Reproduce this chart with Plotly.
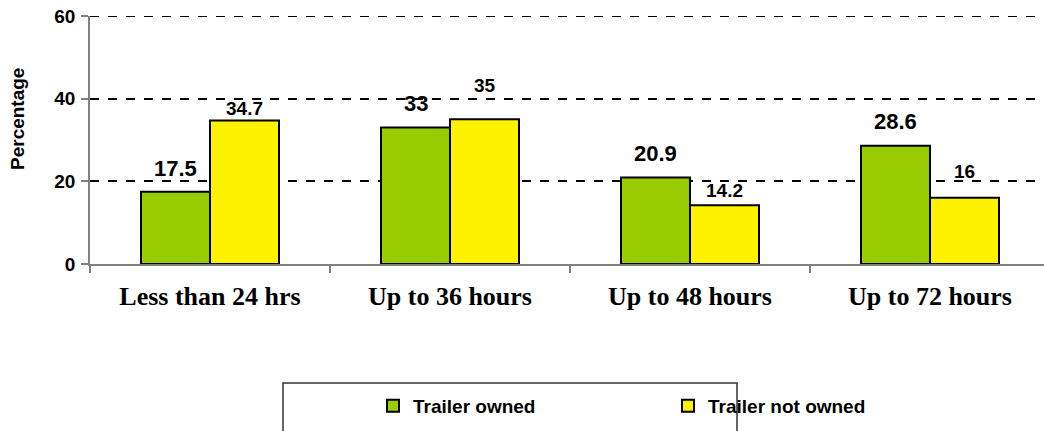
import plotly.graph_objects as go

categories = ["Less than 24 hrs", "Up to 36 hours", "Up to 48 hours", "Up to 72 hours"]
owned = [17.5, 33, 20.9, 28.6]
not_owned = [34.7, 35, 14.2, 16]
series_names = ["Trailer owned", "Trailer not owned"]
y_ticks = [0, 20, 40, 60]
y_title = "Percentage"

GREEN = "#99CC00"
YELLOW = "#FFF200"

# page body margin is removed below, so the figure sits at the top-left corner
OFF = 0
W, H = 1044, 431
ML = 90 - OFF
MT = 16 - OFF
MB = H - (264 - OFF)
MR = 0
PW = W - ML - MR
PH = H - MT - MB


def px_x(sx):
    return (sx - OFF - ML) / PW


def px_y(sy):
    return 1 - (sy - OFF - MT) / PH


fig = go.Figure()
fig.add_trace(go.Bar(x=categories, y=owned, name=series_names[0],
                     marker=dict(color=GREEN, line=dict(color="black", width=2))))
fig.add_trace(go.Bar(x=categories, y=not_owned, name=series_names[1],
                     marker=dict(color=YELLOW, line=dict(color="black", width=2))))

# value labels
label_font = "Liberation Sans, Arial, sans-serif"
offs_owned = [23, 24, 24, 24]
offs_not = [12, 34, 15, 26]
for i, c in enumerate(categories):
    fig.add_annotation(x=c, y=owned[i], xref="x", yref="y", text=f"{owned[i]:g}",
                       showarrow=False, xshift=-34.5, yshift=offs_owned[i], yanchor="middle",
                       font=dict(family=label_font, size=22, color="black", weight="bold"))
    fig.add_annotation(x=c, y=not_owned[i], xref="x", yref="y", text=f"{not_owned[i]:g}",
                       showarrow=False, xshift=34.5, yshift=offs_not[i], yanchor="middle",
                       font=dict(family=label_font, size=19, color="black", weight="bold"))

# y axis title
fig.add_annotation(x=px_x(18), y=px_y(119), xref="paper", yref="paper", text=y_title,
                   showarrow=False, textangle=-90, xanchor="center", yanchor="middle",
                   font=dict(family=label_font, size=19, color="black", weight="bold"))

# top dashed gridline at the range limit
fig.add_shape(type="line", xref="paper", yref="y", x0=0, x1=1,
              y0=y_ticks[-1], y1=y_ticks[-1],
              line=dict(color="black", width=2, dash="dash"))

# legend box
fig.add_shape(type="rect", xref="paper", yref="paper",
              x0=px_x(283), x1=px_x(737), y0=px_y(433), y1=px_y(383),
              line=dict(color="#333333", width=1.5), fillcolor="white", layer="below")

fig.update_layout(
    width=W, height=H,
    margin=dict(l=ML, r=MR, t=MT, b=MB, pad=0, autoexpand=False),
    paper_bgcolor="white", plot_bgcolor="white",
    barmode="group", bargap=0.425, bargroupgap=0,
    showlegend=True,
    legend=dict(orientation="h", x=px_x(373), xanchor="left",
                y=px_y(406), yanchor="middle",
                font=dict(family=label_font, size=19, color="black", weight="bold"),
                bgcolor="rgba(0,0,0,0)", borderwidth=0,
                entrywidth=250, entrywidthmode="pixels", itemwidth=30,
                traceorder="normal"),
    font=dict(family=label_font, color="black"),
)
fig.update_xaxes(
    range=[-0.5, -0.5 + PW / 240], tickson="boundaries", automargin=False,
    ticks="outside", ticklen=7, tickcolor="#808080", tickwidth=1.5,
    showline=True, linecolor="#808080", linewidth=1.5,
    showgrid=False, zeroline=False,
    tickfont=dict(family="Liberation Serif, Times New Roman, serif", size=26, color="black", weight="bold"),
    ticklabelstandoff=8, ticklabeloverflow="allow",
)
fig.update_yaxes(
    range=[0, 60], tickvals=y_ticks, automargin=False,
    ticks="outside", ticklen=7, tickcolor="#808080", tickwidth=1.5,
    showline=True, linecolor="#808080", linewidth=1.5,
    showgrid=True, gridcolor="black", gridwidth=2, griddash="dash",
    zeroline=False,
    tickfont=dict(family=label_font, size=19, color="black", weight="bold"),
    ticklabelstandoff=2, ticklabeloverflow="allow",
)

fig.write_html("out.html", config={"displayModeBar": False},
               post_script="document.body.style.margin='0';document.body.style.overflow='hidden';")
